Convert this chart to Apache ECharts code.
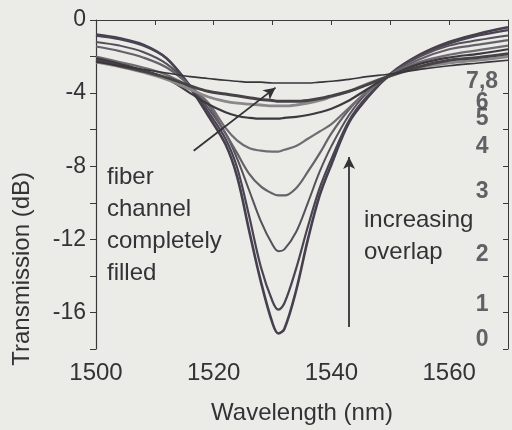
<!DOCTYPE html>
<html>
<head>
<meta charset="utf-8">
<script src="https://cdn.jsdelivr.net/npm/echarts@6/dist/echarts.min.js"></script>
<style>
  html, body { margin: 0; padding: 0; background: #ebebe8; }
  #curve { width: 512px; height: 430px; }
</style>
</head>
<body>
<div id="curve"></div>
<script>
// wavelength samples (nm)
var wavelengths = [1500, 1504, 1508, 1512, 1516, 1519, 1522, 1524, 1526, 1528, 1530, 1531,
                   1532, 1534, 1536, 1538, 1540, 1543, 1546, 1550, 1555, 1560, 1565, 1570];
// transmission (dB), one array per overlap step
var t0 = [-0.8, -1.0, -1.35, -2.1, -3.7, -5.2, -6.8, -8.6, -11.5, -14.3, -16.6, -17.15,
          -16.9, -14.8, -12.0, -9.6, -7.9, -5.6, -4.3, -2.95, -1.9, -1.2, -0.75, -0.4];
var t1 = [-0.85, -1.05, -1.4, -2.1, -3.6, -5.0, -6.5, -8.1, -10.7, -13.5, -15.4, -15.85,
          -15.5, -13.6, -11.3, -9.2, -7.6, -5.5, -4.2, -3.0, -1.95, -1.3, -0.85, -0.55];
var t2 = [-1.2, -1.4, -1.75, -2.4, -3.6, -4.8, -6.2, -7.6, -9.3, -11.0, -12.3, -12.65,
          -12.55, -11.6, -10.0, -8.3, -6.9, -5.2, -4.0, -2.95, -2.0, -1.4, -1.1, -0.85];
var t3 = [-1.45, -1.7, -2.05, -2.6, -3.6, -4.6, -6.2, -7.3, -8.4, -9.1, -9.5, -9.6,
          -9.6, -9.2, -8.3, -7.3, -6.2, -4.9, -3.9, -3.0, -2.15, -1.6, -1.35, -1.1];
var t4 = [-2.0, -2.3, -2.6, -3.0, -3.7, -4.5, -5.9, -6.6, -7.0, -7.15, -7.2, -7.2,
          -7.1, -6.9, -6.5, -6.1, -5.7, -4.8, -3.95, -3.0, -2.3, -1.9, -1.65, -1.4];
var t5 = [-2.1, -2.4, -2.75, -3.2, -4.0, -4.6, -5.05, -5.25, -5.35, -5.4, -5.4, -5.4,
          -5.35, -5.3, -5.2, -5.05, -4.85, -4.4, -3.8, -3.05, -2.4, -2.05, -1.85, -1.6];
var t6 = [-2.3, -2.55, -2.85, -3.25, -3.8, -4.2, -4.45, -4.55, -4.6, -4.65, -4.7, -4.7,
          -4.7, -4.65, -4.55, -4.4, -4.2, -3.9, -3.5, -3.05, -2.6, -2.35, -2.2, -2.0];
var t7 = [-2.2, -2.5, -2.8, -3.15, -3.6, -3.9, -4.05, -4.15, -4.25, -4.35, -4.4, -4.45,
          -4.45, -4.45, -4.4, -4.3, -4.15, -3.9, -3.55, -3.05, -2.55, -2.2, -2.05, -1.85];
var t8 = [-2.3, -2.5, -2.7, -2.9, -3.1, -3.2, -3.3, -3.35, -3.4, -3.4, -3.45, -3.45,
          -3.45, -3.45, -3.45, -3.4, -3.35, -3.25, -3.1, -2.95, -2.7, -2.5, -2.35, -2.2];

var curves = [t0, t1, t2, t3, t4, t5, t6, t7, t8];
var curveColors = ['#463f4d', '#4a4351', '#55505a', '#66626a', '#6f6c72', '#3c383e', '#8a8888', '#464246', '#383638'];
var curveWidths = [2.6, 2.2, 2, 2.2, 2.2, 2.2, 2.8, 3, 1.6];

// step labels at the right side of the plot
var stepNames = ['0', '1', '2', '3', '4', '5', '6', '7,8'];
var stepLevels = [-17.5, -15.6, -12.85, -9.4, -6.95, -5.4, -4.5, -3.4];
var stepX = 1565.6;

var textColor = '#333335';
var axisColor = '#3a3a3a';
var font = 'Liberation Sans, Arial, sans-serif';

var chartDom = document.getElementById('curve');
var myChart = echarts.init(chartDom);

var series = curves.map(function (c, i) {
  return {
    name: String(i),
    type: 'line',
    data: wavelengths.map(function (w, k) { return [w, c[k]]; }),
    smooth: 0.35,
    showSymbol: false,
    lineStyle: { color: curveColors[i], width: curveWidths[i] },
    z: 3
  };
});

series.push({
  type: 'scatter',
  symbolSize: 0,
  data: stepNames.map(function (n, i) { return [stepX, stepLevels[i], n]; }),
  label: {
    show: true,
    position: 'inside',
    formatter: function (p) { return p.data[2]; },
    fontFamily: font,
    fontWeight: 'bold',
    fontSize: 23,
    color: '#3f3f44'
  },
  z: 5
});

// arrows
series.push({
  type: 'line',
  data: [],
  markLine: {
    silent: true,
    symbol: ['none', 'arrow'],
    symbolSize: [9, 12],
    label: { show: false },
    lineStyle: { color: '#333335', width: 1.8, type: 'solid' },
    data: [
      [{ coord: [1543, -16.8] }, { coord: [1543, -7.5] }],
      [{ coord: [1516.6, -7.15] }, { coord: [1530.5, -3.7] }]
    ]
  }
});

var option = {
  backgroundColor: '#ebebe8',
  animation: false,
  grid: { left: 96, right: 4, top: 20, bottom: 78 },
  xAxis: [{
    type: 'value',
    min: 1500, max: 1570, interval: 10,
    axisLine: { lineStyle: { color: axisColor, width: 1.2 } },
    axisTick: { inside: false, length: 5, lineStyle: { color: axisColor } },
    axisLabel: {
      formatter: function (v) { return v % 20 === 0 ? v : ''; },
      fontFamily: font,
      fontSize: 24, color: textColor, margin: 12
    },
    splitLine: { show: false },
    name: 'Wavelength (nm)',
    nameLocation: 'middle',
    nameGap: 52,
    nameTextStyle: { fontFamily: font, fontSize: 24, color: textColor }
  }, {
    type: 'value',
    position: 'top',
    min: 1500, max: 1570, interval: 10,
    axisLine: { lineStyle: { color: axisColor, width: 1 } },
    axisTick: { inside: true, length: 5, lineStyle: { color: axisColor } },
    axisLabel: { show: false },
    splitLine: { show: false }
  }],
  yAxis: [{
    type: 'value',
    min: -18, max: 0, interval: 2,
    axisLine: { show: true, lineStyle: { color: axisColor, width: 1.2 } },
    axisTick: { show: true, inside: false, length: 6, lineStyle: { color: axisColor } },
    axisLabel: {
      formatter: function (v) { return v % 4 === 0 ? v : ''; },
      fontFamily: font,
      fontSize: 23, color: textColor, margin: 10
    },
    splitLine: { show: false }
  }, {
    type: 'value',
    position: 'right',
    min: -18, max: 0, interval: 2,
    axisLine: { show: true, lineStyle: { color: axisColor, width: 1 } },
    axisTick: { show: true, inside: true, length: 5, lineStyle: { color: axisColor } },
    axisLabel: { show: false },
    splitLine: { show: false }
  }],
  graphic: [{
    type: 'text',
    left: 10, top: 172,
    rotation: Math.PI / 2,
    originX: 0, originY: 0,
    style: {
      text: 'Transmission (dB)',
      font: '24px "Liberation Sans", Arial, sans-serif',
      fill: textColor,
      textAlign: 'center',
      textVerticalAlign: 'middle'
    }
  }, {
    type: 'text',
    left: 107, top: 161,
    style: {
      text: 'fiber\nchannel\ncompletely\nfilled',
      font: '24px "Liberation Sans", Arial, sans-serif',
      lineHeight: 32,
      fill: textColor
    }
  }, {
    type: 'text',
    left: 364, top: 204,
    style: {
      text: 'increasing\noverlap',
      font: '24px "Liberation Sans", Arial, sans-serif',
      lineHeight: 32,
      fill: textColor
    }
  }],
  series: series
};
option && myChart.setOption(option);
</script>
</body>
</html>
